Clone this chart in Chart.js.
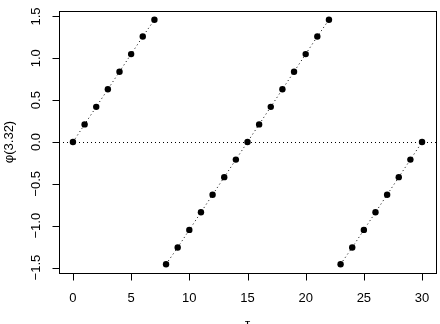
<!DOCTYPE html>
<html>
<head>
<meta charset="utf-8">
<script src="https://cdn.jsdelivr.net/npm/chart.js@4/dist/chart.umd.min.js"></script>
<style>
  body { margin: 0; background: #fff; }
  canvas { display: block; }
</style>
</head>
<body>
<canvas id="phiChart" width="440" height="324"></canvas>
<script>
// tau values and phi(3.32)
let tau = [0, 1, 2, 3, 4, 5, 6, 7, 8, 9, 10, 11, 12, 13, 14, 15,
           16, 17, 18, 19, 20, 21, 22, 23, 24, 25, 26, 27, 28, 29, 30]
let phi = [0, 0.21, 0.42, 0.63, 0.84, 1.05, 1.26, 1.46,
           -1.46, -1.26, -1.05, -0.84, -0.63, -0.42, -0.21, 0,
           0.21, 0.42, 0.63, 0.84, 1.05, 1.26, 1.46,
           -1.46, -1.26, -1.05, -0.84, -0.63, -0.42, -0.21, 0]
let xTicks = [0, 5, 10, 15, 20, 25, 30]
let yTicks = [-1.5, -1.0, -0.5, 0.0, 0.5, 1.0, 1.5]
let xTitle = "τ"
let yTitle = "φ(3.32)"

let font = '13px "Liberation Sans", Arial, sans-serif'

function fmtY(v) {
    return v.toFixed(1).replace("-", "\u2212")
}

// R-style box, axes and the dotted zero line
let rAxes = {
    id: "rAxes",
    beforeDatasetsDraw(chart) {
        let ctx = chart.ctx
        let a = chart.chartArea
        let y0 = chart.scales.y.getPixelForValue(0)
        ctx.save()
        ctx.strokeStyle = "#000"
        ctx.lineWidth = 1
        ctx.setLineDash([1, 3])
        ctx.beginPath()
        ctx.moveTo(a.left, Math.round(y0) + 0.5)
        ctx.lineTo(a.right, Math.round(y0) + 0.5)
        ctx.stroke()
        ctx.restore()
    },
    afterDraw(chart) {
        let ctx = chart.ctx
        let a = chart.chartArea
        let xs = chart.scales.x
        let ys = chart.scales.y
        ctx.save()
        ctx.strokeStyle = "#000"
        ctx.fillStyle = "#000"
        ctx.lineWidth = 1
        ctx.strokeRect(Math.round(a.left) + 0.5, Math.round(a.top) + 0.5,
                       Math.round(a.right - a.left), Math.round(a.bottom - a.top))

        // x axis
        let bottom = Math.round(a.bottom) + 0.5
        ctx.beginPath()
        ctx.moveTo(xs.getPixelForValue(xTicks[0]), bottom)
        ctx.lineTo(xs.getPixelForValue(xTicks[xTicks.length - 1]), bottom)
        xTicks.forEach(t => {
            let px = Math.round(xs.getPixelForValue(t)) + 0.5
            ctx.moveTo(px, bottom)
            ctx.lineTo(px, bottom + 7)
        })
        ctx.stroke()
        ctx.font = font
        ctx.textAlign = "center"
        ctx.textBaseline = "middle"
        xTicks.forEach(t => {
            ctx.fillText(String(t), xs.getPixelForValue(t), 298)
        })

        // y axis
        let left = Math.round(a.left) + 0.5
        ctx.beginPath()
        ctx.moveTo(left, ys.getPixelForValue(yTicks[0]))
        ctx.lineTo(left, ys.getPixelForValue(yTicks[yTicks.length - 1]))
        yTicks.forEach(t => {
            let py = Math.round(ys.getPixelForValue(t)) + 0.5
            ctx.moveTo(left, py)
            ctx.lineTo(left - 7, py)
        })
        ctx.stroke()
        yTicks.forEach(t => {
            ctx.save()
            ctx.translate(36, ys.getPixelForValue(t))
            ctx.rotate(-Math.PI / 2)
            ctx.fillText(fmtY(t), 0, 0)
            ctx.restore()
        })

        // titles
        ctx.save()
        ctx.translate(9, (a.top + a.bottom) / 2)
        ctx.rotate(-Math.PI / 2)
        ctx.fillText(yTitle, 0, 0)
        ctx.restore()
        ctx.textBaseline = "top"
        ctx.fillText(xTitle, (a.left + a.right) / 2, 318)
        ctx.restore()
    }
}

let points = tau.map((t, i) => ({ x: t, y: phi[i] }))

let phiChart = new Chart(document.querySelector("#phiChart").getContext("2d"), {
    type: "line",
    data: {
        datasets: [
            {
                data: points,
                borderColor: "#000",
                borderWidth: 1,
                borderDash: [1, 3],
                backgroundColor: "#000",
                pointBackgroundColor: "#000",
                pointBorderWidth: 0,
                pointRadius: 3.2,
                tension: 0,
                fill: false,
                segment: {
                    // no line across the wrap from +pi/2 to -pi/2
                    borderColor: c => c.p1.parsed.y < c.p0.parsed.y ? "transparent" : "#000"
                }
            }
        ]
    },
    options: {
        responsive: false,
        devicePixelRatio: 1,
        animation: false,
        layout: {
            padding: { left: 59, top: 11, right: 2, bottom: 51 }
        },
        scales: {
            x: { type: "linear", min: -1.2, max: 31.2, display: false },
            y: { type: "linear", min: -1.565, max: 1.565, display: false }
        },
        plugins: {
            legend: { display: false },
            tooltip: { enabled: false }
        }
    },
    plugins: [rAxes]
})
</script>
</body>
</html>
